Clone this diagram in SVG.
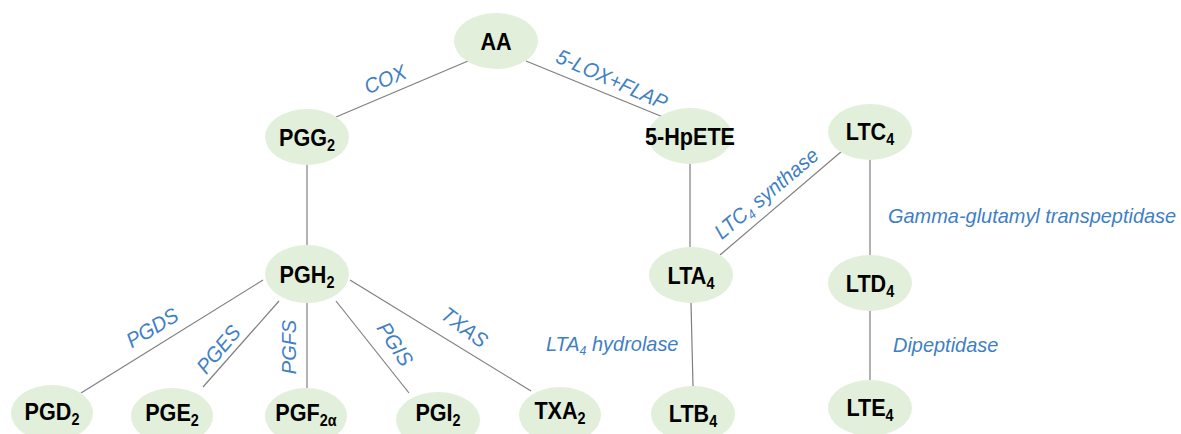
<svg xmlns="http://www.w3.org/2000/svg" width="1181" height="434" viewBox="0 0 1181 434">
  <style>
    .node ellipse { fill: #e2efda; stroke: none; }
    .node text { font-family: "Liberation Sans", Arial, sans-serif; font-weight: bold; font-size: 24px; fill: #000; text-anchor: middle; }
    .sub { font-size: 16px; }
    .edges line { stroke: #7f7f7f; stroke-width: 1.2; }
    .lbl { font-family: "Liberation Sans", Arial, sans-serif; font-style: italic; font-size: 21px; fill: #3f7fc4; }
    .lsub { font-size: 13px; }
  </style>
  <rect width="1181" height="434" fill="#ffffff"/>

  <!-- connectors -->
  <g class="edges">
    <line x1="468" y1="61" x2="336" y2="117"/>
    <line x1="526" y1="61" x2="663" y2="117"/>
    <line x1="307" y1="165" x2="307" y2="245"/>
    <line x1="690" y1="163" x2="690" y2="247"/>
    <line x1="691" y1="303" x2="693" y2="386"/>
    <line x1="720" y1="255" x2="842" y2="151"/>
    <line x1="870" y1="160" x2="870" y2="255"/>
    <line x1="870" y1="311" x2="870" y2="380"/>
    <line x1="263" y1="280" x2="81" y2="393"/>
    <line x1="279" y1="301" x2="203" y2="387"/>
    <line x1="307" y1="303" x2="307" y2="388"/>
    <line x1="336" y1="301" x2="409" y2="393"/>
    <line x1="350" y1="280" x2="531" y2="391"/>
  </g>

  <!-- enzyme labels -->
  <g>
    <text class="lbl" transform="translate(388,86) rotate(-23) scale(0.95,1)" text-anchor="middle">COX</text>
    <text class="lbl" transform="translate(609,86) rotate(24) scale(0.95,1)" text-anchor="middle">5-LOX+FLAP</text>
    <text class="lbl" transform="translate(156,334) rotate(-31) scale(0.95,1)" text-anchor="middle">PGDS</text>
    <text class="lbl" transform="translate(224,354) rotate(-50) scale(0.95,1)" text-anchor="middle">PGES</text>
    <text class="lbl" transform="translate(296,347) rotate(-90) scale(0.95,1)" text-anchor="middle">PGFS</text>
    <text class="lbl" transform="translate(389,348) rotate(57) scale(0.95,1)" text-anchor="middle">PGIS</text>
    <text class="lbl" transform="translate(460,333) rotate(37) scale(0.95,1)" text-anchor="middle">TXAS</text>
    <text class="lbl" transform="translate(771,199) rotate(-40) scale(0.95,1)" text-anchor="middle">LTC<tspan class="lsub" dy="4">4</tspan><tspan dy="-4"> synthase</tspan></text>
    <text class="lbl" transform="translate(888,223) scale(0.95,1)">Gamma-glutamyl transpeptidase</text>
    <text class="lbl" transform="translate(546,351) scale(0.95,1)">LTA<tspan class="lsub" dy="4">4</tspan><tspan dy="-4"> hydrolase</tspan></text>
    <text class="lbl" transform="translate(893,352) scale(0.95,1)">Dipeptidase</text>
  </g>

  <!-- metabolites -->
  <g id="AA" class="node"><ellipse cx="496" cy="41" rx="42" ry="28"/><text transform="translate(496,50) scale(0.9,1)">AA</text></g>
  <g id="PGG2" class="node"><ellipse cx="307" cy="137" rx="42" ry="28"/><text transform="translate(307,146) scale(0.9,1)">PGG<tspan class="sub" dy="5">2</tspan></text></g>
  <g id="HpETE" class="node"><ellipse cx="690" cy="136" rx="42" ry="28"/><text transform="translate(690,145) scale(0.9,1)">5-HpETE</text></g>
  <g id="LTC4" class="node"><ellipse cx="870" cy="132" rx="42" ry="28"/><text transform="translate(870,140) scale(0.9,1)">LTC<tspan class="sub" dy="5">4</tspan></text></g>
  <g id="PGH2" class="node"><ellipse cx="307" cy="274" rx="42" ry="29"/><text transform="translate(307,283) scale(0.9,1)">PGH<tspan class="sub" dy="5">2</tspan></text></g>
  <g id="LTA4" class="node"><ellipse cx="691" cy="275" rx="42" ry="28"/><text transform="translate(691,284) scale(0.9,1)">LTA<tspan class="sub" dy="5">4</tspan></text></g>
  <g id="LTD4" class="node"><ellipse cx="870" cy="283" rx="42" ry="28"/><text transform="translate(870,292) scale(0.9,1)">LTD<tspan class="sub" dy="5">4</tspan></text></g>
  <g id="PGD2" class="node"><ellipse cx="52" cy="413" rx="41" ry="28"/><text transform="translate(52,420) scale(0.9,1)">PGD<tspan class="sub" dy="5">2</tspan></text></g>
  <g id="PGE2" class="node"><ellipse cx="172" cy="416" rx="41" ry="28"/><text transform="translate(172,421) scale(0.9,1)">PGE<tspan class="sub" dy="5">2</tspan></text></g>
  <g id="PGF2a" class="node"><ellipse cx="306" cy="416" rx="41" ry="28"/><text transform="translate(306,421) scale(0.9,1)">PGF<tspan class="sub" dy="5">2α</tspan></text></g>
  <g id="PGI2" class="node"><ellipse cx="438" cy="420" rx="42" ry="28"/><text transform="translate(438,421) scale(0.9,1)">PGI<tspan class="sub" dy="5">2</tspan></text></g>
  <g id="TXA2" class="node"><ellipse cx="560" cy="415" rx="41" ry="28"/><text transform="translate(560,419) scale(0.9,1)">TXA<tspan class="sub" dy="5">2</tspan></text></g>
  <g id="LTB4" class="node"><ellipse cx="693" cy="414" rx="42" ry="28"/><text transform="translate(693,422) scale(0.9,1)">LTB<tspan class="sub" dy="5">4</tspan></text></g>
  <g id="LTE4" class="node"><ellipse cx="870" cy="408" rx="42" ry="28"/><text transform="translate(870,416) scale(0.9,1)">LTE<tspan class="sub" dy="5">4</tspan></text></g>
</svg>
